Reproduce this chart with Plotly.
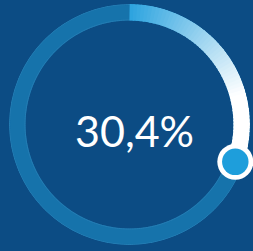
import plotly.graph_objects as go
import numpy as np

# Data
value = 30.4                     # percent
label = f"{value:.1f}".replace(".", ",") + "%"

# Style
bg = "#0c4c84"
track_color = "#1673ab"
edge_color = "#2a80b6"
start_rgb = (43, 163, 223)
end_rgb = (255, 255, 255)
grad_span = 75.0                 # degrees over which colour fades to white
R_mid, R_out, R_in = 112.2, 120.5, 104.0
width_px = 16.5

fig = go.Figure()

full = np.linspace(0, 360, 361)
fig.add_trace(go.Scatterpolar(r=[R_mid] * len(full), theta=full, mode="lines",
                              line=dict(color=track_color, width=width_px),
                              hoverinfo="skip", showlegend=False))
for rr in (R_out - 0.5, R_in + 0.5):
    fig.add_trace(go.Scatterpolar(r=[rr] * len(full), theta=full, mode="lines",
                                  line=dict(color=edge_color, width=0.8),
                                  hoverinfo="skip", showlegend=False))

end_angle = value / 100 * 360
nseg = 60
edges = np.linspace(0, end_angle, nseg + 1)
for i in range(nseg):
    a0, a1 = edges[i], edges[i + 1]
    t = min(1.0, ((a0 + a1) / 2) / grad_span)
    c = tuple(int(round(s + (e - s) * t)) for s, e in zip(start_rgb, end_rgb))
    a1e = min(end_angle, a1 + 0.6)
    fig.add_trace(go.Scatterpolar(r=[R_mid, R_mid, R_mid], theta=[a0, (a0 + a1e) / 2, a1e],
                                  mode="lines",
                                  line=dict(color=f"rgb{c}", width=width_px),
                                  hoverinfo="skip", showlegend=False))

fig.add_trace(go.Scatterpolar(r=[R_mid], theta=[end_angle], mode="markers",
                              marker=dict(size=36, color="white"),
                              hoverinfo="skip", showlegend=False, cliponaxis=False))
fig.add_trace(go.Scatterpolar(r=[R_mid], theta=[end_angle], mode="markers",
                              marker=dict(size=26.5, color="#1e9edb"),
                              hoverinfo="skip", showlegend=False, cliponaxis=False))

W, H = 253, 251
cx, cy = 129.5, 124.5
rp = 120.5
fig.update_layout(
    width=W, height=H,
    margin=dict(l=0, r=0, t=0, b=0),
    paper_bgcolor=bg, plot_bgcolor=bg,
    polar=dict(
        domain=dict(x=[(cx - rp) / W, (cx + rp) / W],
                    y=[(H - cy - rp) / H, (H - cy + rp) / H]),
        bgcolor="rgba(0,0,0,0)",
        radialaxis=dict(range=[0, rp], visible=False),
        angularaxis=dict(rotation=90, direction="clockwise", visible=False),
    ),
    annotations=[dict(text=label, x=134 / W, y=1 - 130.5 / H, xref="paper", yref="paper",
                      showarrow=False, xanchor="center", yanchor="middle",
                      font=dict(family="Lato", size=43, color="white", weight=400))],
)

fig.write_html("out.html", config={"displayModeBar": False},
               post_script="document.body.style.margin='0';document.body.style.overflow='hidden';")
